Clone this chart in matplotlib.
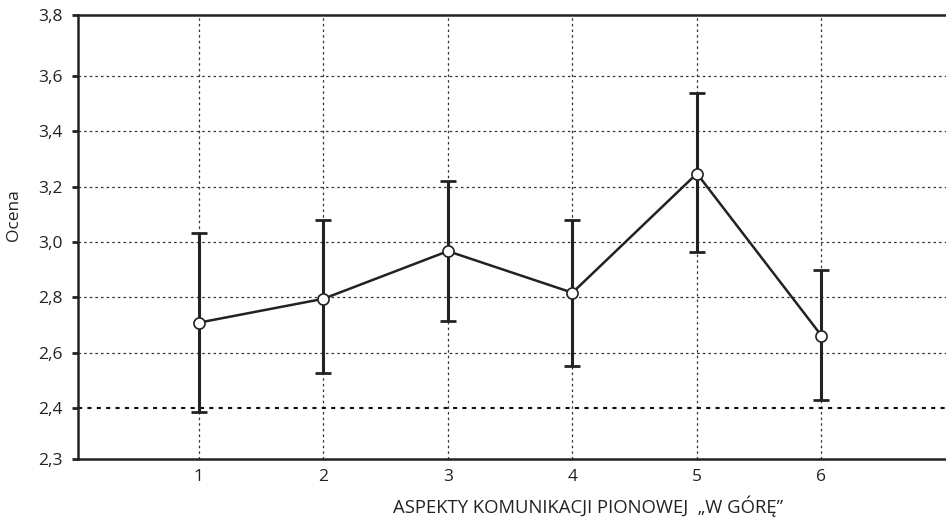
import matplotlib
matplotlib.use("Agg")
import matplotlib.pyplot as plt

# values
aspects = [1, 2, 3, 4, 5, 6]
means = [2.709, 2.795, 2.967, 2.817, 3.247, 2.662]
err_low = [2.386, 2.529, 2.716, 2.554, 2.965, 2.431]
err_high = [3.032, 3.079, 3.219, 3.079, 3.536, 2.900]

y_bottom, y_top = 2.217, 3.82
y_ticks = [y_bottom, 2.4, 2.6, 2.8, 3.0, 3.2, 3.4, 3.6, y_top]
y_labels = ["2,3", "2,4", "2,6", "2,8", "3,0", "3,2", "3,4", "3,6", "3,8"]

plt.rcParams["font.family"] = ["Open Sans", "DejaVu Sans"]

fig = plt.figure(figsize=(9.46, 5.19), dpi=100)
ax = fig.add_axes([0.0825, 0.1156, 0.9175, 0.856])

yerr = [[m - lo for m, lo in zip(means, err_low)],
        [hi - m for m, hi in zip(means, err_high)]]
ax.errorbar(aspects, means, yerr=yerr, fmt="none", ecolor="#222222",
            elinewidth=2.2, capsize=6, capthick=2, zorder=3)
ax.plot(aspects, means, color="#222222", lw=1.8, marker="o", ms=8,
        mfc="white", mec="#222222", mew=1.2, zorder=4)

ax.set_xlim(0.03, 7.0)
ax.set_ylim(y_bottom, y_top)
ax.set_xticks(aspects)
ax.set_yticks(y_ticks)
ax.set_yticklabels(y_labels)

ax.grid(True, linestyle=(0, (2, 2.5)), color="#333333", lw=0.9)
for gl in ax.get_ygridlines():
    if abs(gl.get_ydata()[0] - 2.4) < 1e-6:
        gl.set_linewidth(1.5)
        gl.set_color("#111111")
    if gl.get_ydata()[0] in (y_bottom, y_top):
        gl.set_visible(False)
ax.set_axisbelow(True)

for side in ["left", "bottom", "top"]:
    ax.spines[side].set_linewidth(1.8)
    ax.spines[side].set_color("#222222")
ax.spines["right"].set_visible(False)

ax.tick_params(axis="y", length=4, width=2, color="#222222",
               labelsize=12.5, labelcolor="#222222", pad=7)
ax.tick_params(axis="x", length=0, labelsize=12.5, labelcolor="#222222", pad=7)

ax.set_ylabel("Ocena", fontsize=12.5, color="#222222")
ax.yaxis.set_label_coords(-0.064, 0.55)
ax.set_xlabel("ASPEKTY KOMUNIKACJI PIONOWEJ  \u201eW GÓRĘ\u201d",
              fontsize=13.3, color="#222222")
ax.xaxis.set_label_coords(0.5876, -0.082)

fig.savefig("out.png", dpi=100)
